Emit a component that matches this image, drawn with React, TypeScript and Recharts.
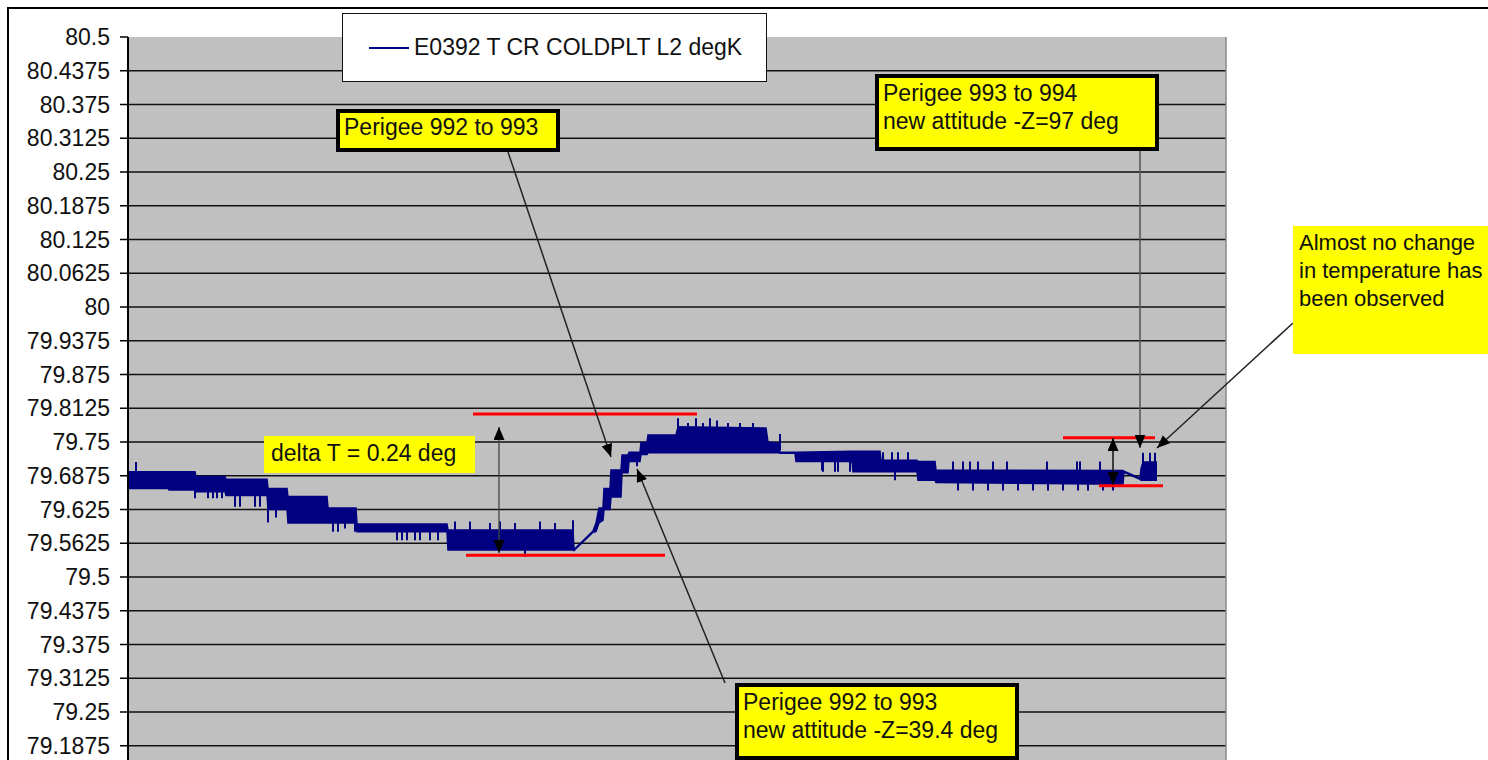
import React from 'react';
import {
  ComposedChart,
  Area,
  Scatter,
  ErrorBar,
  XAxis,
  YAxis,
  CartesianGrid,
  ReferenceLine,
  Legend,
} from 'recharts';

// sample index along the (hidden) time axis, and the band the sensor toggles within (degK)
const bandT = [
  0, 40, 41, 67, 68, 97, 98, 139, 140, 159, 160, 199, 200, 228, 229, 319, 320, 445,
  446, 465, 468, 471, 475, 476, 482, 483, 493, 494, 500, 501, 512, 513, 519, 520, 548,
  550, 638, 640, 651, 652, 667, 668, 724, 725, 752, 753, 789, 790, 807, 808, 995, 996,
  1012, 1013, 1015, 1029,
];
const bandHi = [
  79.695, 79.695, 79.695, 79.695, 79.686, 79.686, 79.681, 79.681, 79.664, 79.664,
  79.649, 79.649, 79.628, 79.628, 79.598, 79.598, 79.587, 79.587, 79.551, 79.585,
  79.6, 79.628, 79.628, 79.664, 79.664, 79.698, 79.698, 79.726, 79.726, 79.731,
  79.731, 79.749, 79.749, 79.763, 79.763, 79.778, 79.776, 79.75, 79.748, 79.731,
  79.731, 79.731, 79.733, 79.733, 79.733, 79.716, 79.716, 79.714, 79.714, 79.698,
  79.697, 79.696, 79.683, 79.7, 79.713, 79.713,
];
const bandLo = [
  79.664, 79.664, 79.661, 79.661, 79.658, 79.658, 79.651, 79.651, 79.625, 79.625,
  79.6, 79.6, 79.6, 79.6, 79.584, 79.584, 79.55, 79.55, 79.549, 79.583, 79.584,
  79.6, 79.605, 79.625, 79.625, 79.648, 79.648, 79.693, 79.693, 79.714, 79.714,
  79.727, 79.727, 79.73, 79.73, 79.73, 79.73, 79.73, 79.73, 79.729, 79.729, 79.714,
  79.714, 79.695, 79.695, 79.695, 79.695, 79.679, 79.679, 79.675, 79.672, 79.694,
  79.681, 79.679, 79.679, 79.679,
];

// single-sample excursions outside the band
const spikeT = [
  8, 67, 80, 85, 89, 94, 107, 112, 127, 132, 140, 148, 162, 205, 210, 217, 227, 269,
  274, 279, 287, 292, 302, 310, 397, 445, 509, 550, 568, 582, 589, 652, 695, 707, 710,
  722, 694, 755, 764, 767, 770, 780, 825, 830, 835, 842, 845, 850, 860, 865, 875, 879,
  890, 905, 919, 920, 935, 949, 950, 952, 960, 972, 975, 985, 1015, 1022, 1027, 327,
  342, 362, 372, 387, 412, 427, 560, 575, 600, 612, 625, 480, 489, 497,
];
const spikeTip = [
  79.713, 79.646, 79.646, 79.646, 79.646, 79.646, 79.63, 79.63, 79.63, 79.63, 79.601,
  79.61, 79.601, 79.584, 79.584, 79.59, 79.584, 79.568, 79.568, 79.568, 79.568,
  79.568, 79.568, 79.568, 79.537, 79.605, 79.705, 79.794, 79.794, 79.794, 79.79,
  79.765, 79.695, 79.695, 79.695, 79.695, 79.697, 79.731, 79.731, 79.679, 79.731,
  79.731, 79.714, 79.66, 79.714, 79.714, 79.66, 79.714, 79.66, 79.714, 79.66, 79.714,
  79.66, 79.66, 79.714, 79.66, 79.66, 79.714, 79.66, 79.714, 79.66, 79.714, 79.66,
  79.66, 79.73, 79.73, 79.73, 79.603, 79.603, 79.6, 79.603, 79.6, 79.603, 79.6,
  79.785, 79.785, 79.785, 79.785, 79.785, 79.632, 79.68, 79.712,
];
const spikeBase = [
  79.69, 79.665, 79.665, 79.665, 79.665, 79.665, 79.66, 79.66, 79.66, 79.66, 79.63,
  79.63, 79.62, 79.605, 79.605, 79.605, 79.605, 79.59, 79.59, 79.59, 79.59, 79.59,
  79.59, 79.59, 79.56, 79.57, 79.72, 79.76, 79.76, 79.76, 79.76, 79.735, 79.72, 79.72,
  79.72, 79.72, 79.72, 79.71, 79.71, 79.7, 79.71, 79.71, 79.69, 79.68, 79.69, 79.69,
  79.68, 79.69, 79.68, 79.69, 79.68, 79.69, 79.68, 79.68, 79.69, 79.68, 79.68, 79.69,
  79.68, 79.69, 79.68, 79.69, 79.68, 79.68, 79.7, 79.7, 79.7, 79.58, 79.58, 79.58,
  79.58, 79.58, 79.58, 79.58, 79.76, 79.76, 79.76, 79.76, 79.76, 79.65, 79.66, 79.7,
];

// tick labels shown on the value axis (the rest of the axis runs below the frame)
const yTicks = [
  80.5, 80.4375, 80.375, 80.3125, 80.25, 80.1875, 80.125, 80.0625, 80, 79.9375,
  79.875, 79.8125, 79.75, 79.6875, 79.625, 79.5625, 79.5, 79.4375, 79.375, 79.3125,
  79.25, 79.1875,
];

// red level markers (start sample, end sample, level)
const markFrom = [345, 338, 935, 971];
const markTo = [569, 537, 1027, 1035];
const markLevel = [79.802, 79.5405, 79.758, 79.669];

const seriesName = 'E0392 T CR COLDPLT L2 degK';

const bandRows = bandT.map((t, i) => ({ t, range: [bandLo[i], bandHi[i]] }));
const spikeRows = spikeT.map((t, i) => ({
  t,
  base: spikeBase[i],
  err:
    spikeTip[i] > spikeBase[i]
      ? [0, spikeTip[i] - spikeBase[i]]
      : [spikeBase[i] - spikeTip[i], 0],
}));

const NAVY = '#000080';
const FONT = "'Liberation Sans', Arial, sans-serif";

const LegendBox = () => (
  <div
    style={{
      width: 425,
      height: 69,
      boxSizing: 'border-box',
      border: '1.5px solid #111',
      background: '#fff',
      position: 'relative',
      fontFamily: FONT,
    }}
  >
    <div
      style={{
        position: 'absolute',
        left: 26,
        top: 33,
        width: 40,
        height: 0,
        borderTop: `2px solid ${NAVY}`,
      }}
    />
    <span
      style={{
        position: 'absolute',
        left: 71,
        top: 20,
        fontSize: 23,
        lineHeight: '26px',
        color: '#111',
        whiteSpace: 'nowrap',
      }}
    >
      {seriesName}
    </span>
  </div>
);

const txt = { fontFamily: FONT, fontSize: 23, fill: '#111' };
const sideTxt = { ...txt, fontSize: 22 };

const Notes = () => (
  <svg
    width={1488}
    height={760}
    style={{ position: 'absolute', left: 0, top: 0, pointerEvents: 'none' }}
  >
    <defs>
      <marker
        id='head'
        markerWidth={13}
        markerHeight={11}
        refX={13}
        refY={5.5}
        orient='auto-start-reverse'
        markerUnits='userSpaceOnUse'
      >
        <path d='M0,0 L13,5.5 L0,11 z' fill='#000' />
      </marker>
    </defs>

    <line x1={508} y1={152} x2={611} y2={457} stroke='#222' strokeWidth={1.5} markerEnd='url(#head)' />
    <line x1={725} y1={683} x2={637} y2={469} stroke='#222' strokeWidth={1.5} markerEnd='url(#head)' />
    <line x1={499} y1={427} x2={499} y2={553} stroke='#444' strokeWidth={1.3} markerStart='url(#head)' markerEnd='url(#head)' />
    <line x1={1140} y1={151} x2={1140} y2={448} stroke='#555' strokeWidth={1.5} markerEnd='url(#head)' />
    <line x1={1293} y1={323} x2={1157} y2={448} stroke='#222' strokeWidth={1.5} markerEnd='url(#head)' />
    <line x1={1113} y1={438} x2={1113} y2={485} stroke='#111' strokeWidth={1.5} markerStart='url(#head)' markerEnd='url(#head)' />

    <rect x={338} y={111} width={220} height={39} fill='#ffff00' stroke='#000' strokeWidth={4} />
    <text x={344} y={135} {...txt}>Perigee 992 to 993</text>

    <rect x={877} y={76} width={280} height={73} fill='#ffff00' stroke='#000' strokeWidth={4} />
    <text x={883} y={100.5} {...txt}>Perigee 993 to 994</text>
    <text x={883} y={129} {...txt}>new attitude -Z=97 deg</text>

    <rect x={737} y={685} width={280} height={73} fill='#ffff00' stroke='#000' strokeWidth={4} />
    <text x={743} y={709.5} {...txt}>Perigee 992 to 993</text>
    <text x={743} y={738} {...txt}>new attitude -Z=39.4 deg</text>

    <rect x={264} y={436} width={211} height={37} fill='#ffff00' />
    <text x={271} y={461} {...txt}>delta T = 0.24 deg</text>

    <rect x={1293} y={226} width={200} height={128} fill='#ffff00' />
    <text x={1299} y={250} {...sideTxt}>Almost no change</text>
    <text x={1299} y={278} {...sideTxt}>in temperature has</text>
    <text x={1299} y={306} {...sideTxt}>been observed</text>
  </svg>
);

const App: React.FC = () => {
  return (
    <div
      style={{
        position: 'relative',
        width: 1488,
        height: 760,
        overflow: 'hidden',
        background: '#fff',
        fontFamily: FONT,
      }}
    >
      <style>{'body{margin:0}'}</style>
      <div
        style={{
          position: 'absolute',
          left: 7,
          top: 7,
          width: 2000,
          height: 2000,
          border: '2px solid #000',
        }}
      />
      <div style={{ position: 'absolute', left: 0, top: 0 }}>
        <ComposedChart
          width={1488}
          height={880}
          data={bandRows}
          margin={{ top: 37, right: 262, bottom: 33, left: 0 }}
        >
          <CartesianGrid
            vertical={false}
            fill='#c0c0c0'
            stroke='#111'
            strokeWidth={1.5}
            horizontalValues={yTicks.slice(1)}
          />
          <XAxis dataKey='t' type='number' domain={[0, 1098]} hide />
          <YAxis
            type='number'
            domain={[79, 80.5]}
            ticks={yTicks}
            interval={0}
            allowDataOverflow
            width={128}
            tickSize={8}
            tickMargin={10}
            axisLine={{ stroke: '#000', strokeWidth: 2 }}
            tickLine={{ stroke: '#000', strokeWidth: 1.5 }}
            tick={{ fontSize: 23, fill: '#111', fontFamily: FONT }}
          />
          <ReferenceLine x={1098} stroke='#8a8a8a' strokeWidth={1.5} />
          <Area
            type='linear'
            dataKey='range'
            name={seriesName}
            stroke={NAVY}
            strokeWidth={1.5}
            fill={NAVY}
            fillOpacity={1}
            dot={false}
            activeDot={false}
            isAnimationActive={false}
          />
          <Scatter
            data={spikeRows}
            dataKey='base'
            shape={() => <g />}
            legendType='none'
            isAnimationActive={false}
          >
            <ErrorBar
              dataKey='err'
              direction='y'
              width={0}
              stroke={NAVY}
              strokeWidth={2}
              isAnimationActive={false}
            />
          </Scatter>
          {markLevel.map((y, i) => (
            <ReferenceLine
              key={i}
              segment={[
                { x: markFrom[i], y },
                { x: markTo[i], y },
              ]}
              stroke='#ff0000'
              strokeWidth={3}
              ifOverflow='visible'
            />
          ))}
          <Legend
            layout='horizontal'
            verticalAlign='middle'
            align='center'
            content={() => <LegendBox />}
            wrapperStyle={{ left: 342, top: 13, width: 425, height: 69 }}
          />
        </ComposedChart>
      </div>
      <Notes />
    </div>
  );
};

export default App;
